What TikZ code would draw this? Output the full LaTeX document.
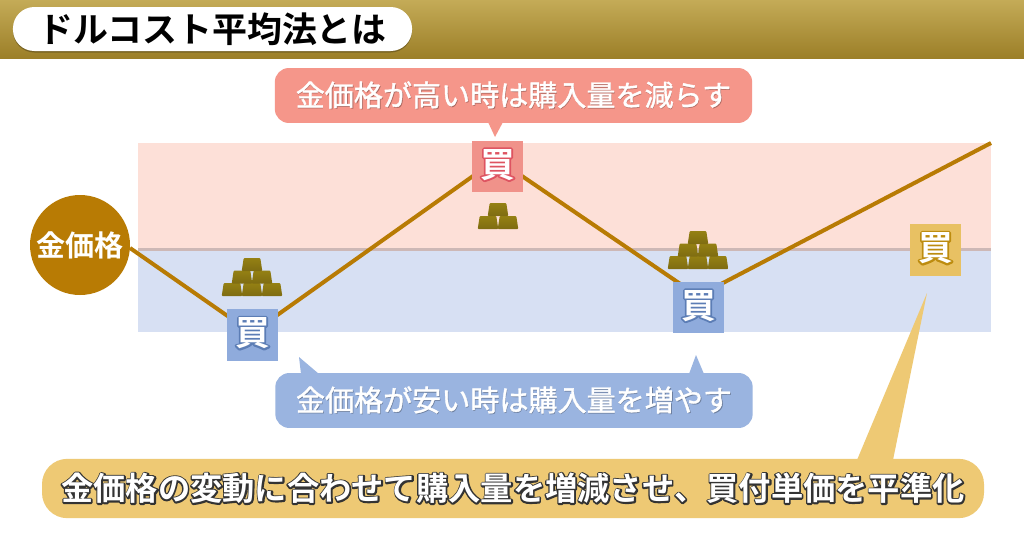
\documentclass[tikz,border=0pt]{standalone}
\usepackage{fontspec}
\setmainfont{Noto Sans CJK JP}
\newfontfamily\jpreg{Noto Sans CJK JP}
\newfontfamily\jpbold{Noto Sans CJK JP Bold}
\definecolor{goldtop}{HTML}{C4AB57}
\definecolor{goldbot}{HTML}{9C7F28}
\definecolor{goldline}{HTML}{B87B04}
\definecolor{pinkband}{HTML}{FDE0D8}
\definecolor{blueband}{HTML}{D7E0F3}
\definecolor{bandline}{HTML}{CDB8B6}
\definecolor{redlab}{HTML}{F5968A}
\definecolor{bluelab}{HTML}{9AB4E0}
\definecolor{yellab}{HTML}{EEC974}
\definecolor{redsq}{HTML}{F0928A}
\definecolor{bluesq}{HTML}{8FABDC}
\definecolor{yelsq}{HTML}{E8C163}
\definecolor{Goldb}{HTML}{8F7A14}
% #1 = stroke colour as r g b, #2 = stroke width in pt, #3 = text
\newcommand\strokedtext[3]{\makebox[0pt][l]{\special{pdf:code q 1 J 1 j #2 w #1 RG #1 rg 2 Tr}#3\special{pdf:code Q}}#3}
\newcommand\kaichar[1]{\fontsize{26}{26}\jpbold\color{white}\strokedtext{#1}{2.6}{買}}
\newcommand\shadowtext[3]{\makebox[0pt][l]{\kern .9pt\raisebox{-.9pt}{\color{#1}#3}}\special{pdf:code q .3 w 1 1 1 RG 1 1 1 rg 2 Tr}#2\special{pdf:code Q}}
\tikzset{
  x=.75pt,y=-.75pt,
  goldbar/.pic={
    \shade[top color=Goldb!95!yellow,bottom color=Goldb!88!black,rounded corners=.8pt] (-.3,13.2)--(20.3,13.2)--(18.3,0)--(1.7,0)--cycle;
  },
  kaisq/.style={rectangle,minimum size=38.5pt,inner sep=0pt,text height=19pt,text depth=3pt,align=center},
  lab/.style={rectangle,rounded corners=10.5pt,inner sep=0pt,minimum height=41.2pt,minimum width=358pt,font=\fontsize{21.8}{22}\jpreg}
}
\begin{document}
\begin{tikzpicture}
\useasboundingbox (0,0) rectangle (1024,546);
\fill[white] (0,0) rectangle (1024,546);
% header
\shade[top color=goldtop,bottom color=goldbot] (0,0) rectangle (1024,58);
\fill[black,opacity=.25,rounded corners=16pt] (13,8.5) rectangle (412,52.5);
\node[rectangle,fill=white,rounded corners=16pt,minimum width=299.3pt,minimum height=33pt,inner sep=0pt,font=\fontsize{26.2}{26}\jpbold] (title) at (212.5,29) {ドルコスト平均法とは};
% bands
\fill[pinkband] (138,143) rectangle (991,249);
\fill[blueband] (138,251) rectangle (991,332);
\fill[bandline] (138,248) rectangle (991,251);
% price line
\coordinate (p0) at (130,248);
\coordinate (p1) at (252,333);
\coordinate (p2) at (497,159);
\coordinate (p3) at (698,296);
\coordinate (p4) at (991,143);
\draw[goldline,line width=3pt,line join=miter] (p0)--(p1)--(p2)--(p3)--(p4);
% circle
\node[circle,fill=goldline,minimum size=75pt,inner sep=0pt,text=white,font=\fontsize{21.8}{22}\jpbold] (price) at (80,245) {金価格};
% squares
\node[kaisq,fill=bluesq] (buy1) at (252.5,335) {\kaichar{.36 .49 .71}};
\node[kaisq,fill=redsq] (buy2) at (497.5,166.5) {\kaichar{.87 .33 .38}};
\node[kaisq,fill=bluesq] (buy3) at (698.5,307.5) {\kaichar{.36 .49 .71}};
\node[kaisq,fill=yelsq] (buy4) at (935.5,250) {\kaichar{.74 .55 .06}};
% gold bars left
\foreach \x/\y in {222/283,242/283,262/283,232/270.5,252/270.5,242/258}{\pic at (\x,\y) {goldbar};}
% gold bars peak
\foreach \x/\y in {478/216,498/216,488/203}{\pic at (\x,\y) {goldbar};}
% gold bars right
\foreach \x/\y in {668/256,688/256,708/256,678/243.5,698/243.5,688/231}{\pic at (\x,\y) {goldbar};}
% tails
\fill[redlab] (488,122)--(503,122)--(495,137)--cycle;
\fill[bluelab] (301,374)--(319,374)--(299,357)--cycle;
\fill[bluelab] (689,374)--(704,374)--(696,355)--cycle;
\fill[yellab] (857,460)--(893,460)--(927,293)--cycle;
% labels
\node[lab,fill=redlab] (high) at (513.5,95.5) {\shadowtext{redlab!70!black}{金価格が高い時は購入量を減らす}{金価格が高い時は購入量を減らす}};
\node[lab,fill=bluelab] (low) at (514,400.5) {\shadowtext{bluelab!70!black}{金価格が安い時は購入量を増やす}{金価格が安い時は購入量を増やす}};
\node[rectangle,fill=yellab,rounded corners=19pt,minimum width=706.5pt,minimum height=44.5pt,inner sep=0pt,font=\fontsize{24.2}{24}\jpbold,text=white] (avg) at (513,488.5) {\strokedtext{.2 .2 .2}{2.2}{金価格の変動に合わせて購入量を増減させ、買付単価を平準化}};
\end{tikzpicture}
\end{document}
